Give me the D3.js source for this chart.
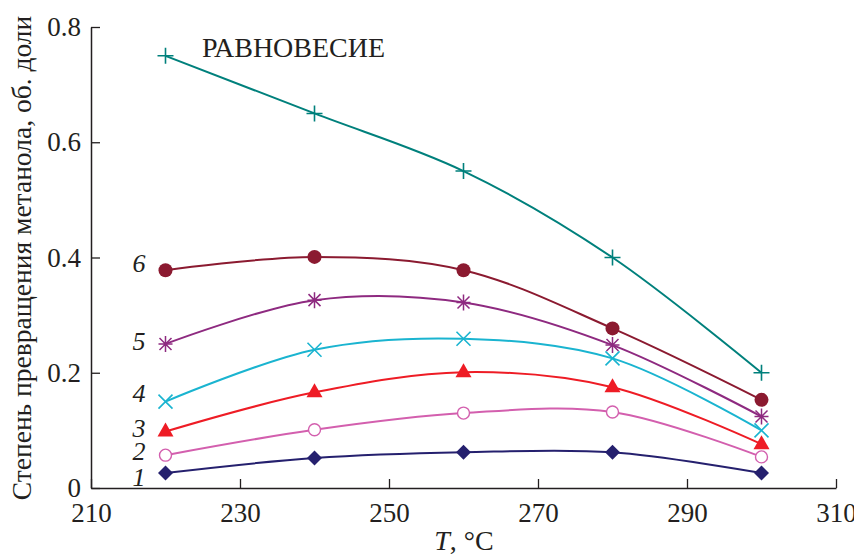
<!DOCTYPE html>
<html>
<head>
<meta charset="utf-8">
<script src="https://cdn.jsdelivr.net/npm/d3@7"></script>
<style>
  body { margin: 0; background: #fff; }
  svg text { font-family: "Liberation Serif", "Times New Roman", serif !important; fill: #231f20; }
</style>
</head>
<body>
<div id="chart-area"></div>
<script>
const temps = [220, 240, 260, 280, 300];
const xTicks = [210, 230, 250, 270, 290, 310];
const yTicks = [0, 0.2, 0.4, 0.6, 0.8];
const yTickLabels = ["0", "0.2", "0.4", "0.6", "0.8"];

const eqValues = [0.75, 0.65, 0.55, 0.40, 0.20];
const s6 = [0.378, 0.401, 0.378, 0.277, 0.153];
const s5 = [0.250, 0.326, 0.322, 0.248, 0.124];
const s4 = [0.150, 0.240, 0.259, 0.225, 0.100];
const s3 = [0.098, 0.166, 0.201, 0.175, 0.076];
const s2 = [0.057, 0.101, 0.130, 0.132, 0.054];
const s1 = [0.026, 0.052, 0.062, 0.062, 0.026];

const series = [
	{ label: "РАВНОВЕСИЕ", values: eqValues, color: "#00807c", marker: "plus" },
	{ label: "6", values: s6, color: "#8b1a30", marker: "circle" },
	{ label: "5", values: s5, color: "#8e2a80", marker: "asterisk" },
	{ label: "4", values: s4, color: "#1ab4d0", marker: "cross" },
	{ label: "3", values: s3, color: "#ee1c25", marker: "triangle" },
	{ label: "2", values: s2, color: "#d35fae", marker: "ring" },
	{ label: "1", values: s1, color: "#25206e", marker: "diamond" }
];

const width = 854, height = 556;
const svg = d3.select("#chart-area").append("svg")
	.attr("width", width)
	.attr("height", height)
	.attr("font-family", "Liberation Serif");

const x = d3.scaleLinear().domain([210, 310]).range([91, 836]);
const y = d3.scaleLinear().domain([0, 0.8]).range([488, 27]);

// axes (ticks point inward)
svg.append("g")
	.attr("transform", "translate(0,488)")
	.call(d3.axisBottom(x).tickValues(xTicks).tickSizeInner(-9).tickSizeOuter(0).tickPadding(15))
	.attr("font-family", "Liberation Serif")
	.call(g => g.select(".domain").attr("stroke", "#231f20").attr("stroke-width", 1.5))
	.call(g => g.selectAll(".tick line").attr("stroke", "#231f20").attr("stroke-width", 1.3))
	.call(g => g.selectAll(".tick text").attr("font-size", 27).attr("fill", "#231f20"));

svg.append("g")
	.attr("transform", "translate(91,0)")
	.call(d3.axisLeft(y).tickValues(yTicks).tickFormat((d, i) => yTickLabels[i]).tickSizeInner(-9).tickSizeOuter(0).tickPadding(10))
	.attr("font-family", "Liberation Serif")
	.call(g => g.select(".domain").attr("stroke", "#231f20").attr("stroke-width", 1.5))
	.call(g => g.selectAll(".tick line").attr("stroke", "#231f20").attr("stroke-width", 1.3))
	.call(g => g.selectAll(".tick text").attr("font-size", 27).attr("fill", "#231f20"));

// axis titles
const xt = svg.append("text")
	.attr("x", 464).attr("y", 550)
	.attr("text-anchor", "middle")
	.attr("font-size", 28);
xt.append("tspan").attr("font-style", "italic").text("T");
xt.append("tspan").text(", °C");

svg.append("text")
	.attr("transform", "translate(31,258) rotate(-90)")
	.attr("text-anchor", "middle")
	.attr("font-size", 27.5)
	.text("Степень превращения метанола, об. доли");

const line = d3.line()
	.x((d, i) => x(temps[i]))
	.y(d => y(d))
	.curve(d3.curveCatmullRom.alpha(0.5));

series.forEach(s => {
	svg.append("path")
		.datum(s.values)
		.attr("d", line)
		.attr("fill", "none")
		.attr("stroke", s.color)
		.attr("stroke-width", 2);

	const g = svg.append("g");
	s.values.forEach((v, i) => {
		const cx = x(temps[i]), cy = y(v);
		const m = g.append("g").attr("transform", `translate(${cx},${cy})`);
		if (s.marker === "plus") {
			m.append("path").attr("d", "M-8,0H8M0,-8V8").attr("stroke", s.color).attr("stroke-width", 1.6);
		} else if (s.marker === "circle") {
			m.append("circle").attr("r", 7).attr("fill", s.color);
		} else if (s.marker === "asterisk") {
			m.append("path").attr("d", "M-7,0H7M0,-8V8M-6,-6L6,6M-6,6L6,-6").attr("stroke", s.color).attr("stroke-width", 1.5);
		} else if (s.marker === "cross") {
			m.append("path").attr("d", "M-7,-7L7,7M-7,7L7,-7").attr("stroke", s.color).attr("stroke-width", 1.6);
		} else if (s.marker === "triangle") {
			m.append("path").attr("d", "M0,-9L8,5H-8Z").attr("fill", s.color);
		} else if (s.marker === "ring") {
			m.append("circle").attr("r", 6).attr("fill", "#fff").attr("stroke", s.color).attr("stroke-width", 1.4);
		} else if (s.marker === "diamond") {
			m.append("path").attr("d", "M0,-7.5L7.5,0L0,7.5L-7.5,0Z").attr("fill", s.color);
		}
	});
});

// curve labels
const labelOffsets = { "6": -7, "5": -3, "4": -9, "3": -4, "2": -4, "1": 4 };
series.slice(1).forEach(s => {
	svg.append("text")
		.attr("x", 139)
		.attr("y", y(s.values[0]) + labelOffsets[s.label])
		.attr("dy", "0.35em")
		.attr("text-anchor", "middle")
		.attr("font-style", "italic")
		.attr("font-size", 26)
		.text(s.label);
});

svg.append("text")
	.attr("x", 202).attr("y", 57)
	.attr("font-size", 28)
	.text("РАВНОВЕСИЕ");
</script>
</body>
</html>
